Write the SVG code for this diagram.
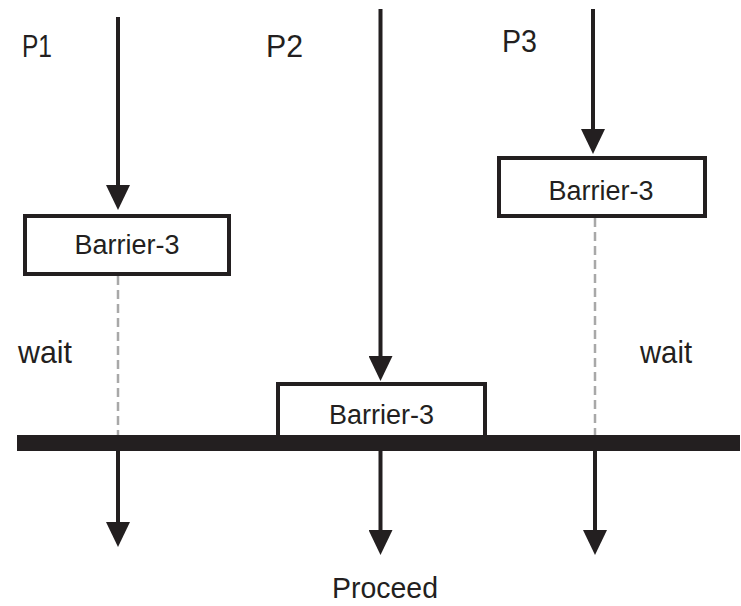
<svg xmlns="http://www.w3.org/2000/svg" width="741" height="606" viewBox="0 0 741 606">
  <style>
    .lbl { font-family: "Liberation Sans", Arial, sans-serif; fill: #231f20; }
    .big { font-size: 32px; }
    .box { fill: #ffffff; stroke: #231f20; stroke-width: 4; }
    .btxt { font-size: 27px; text-anchor: middle; }
    .flow { stroke: #231f20; stroke-width: 4; fill: none; marker-end: url(#ah); }
    .wait { stroke: #a8a8a8; stroke-width: 2.5; stroke-dasharray: 9 5; fill: none; }
  </style>
  <defs>
    <marker id="ah" markerUnits="userSpaceOnUse" markerWidth="25" markerHeight="24" viewBox="0 -12 25 24" refX="2" refY="0" orient="auto">
      <path d="M0,-12 L25,0 L0,12 Z" fill="#231f20"/>
    </marker>
  </defs>
  <rect width="741" height="606" fill="#ffffff"/>

  <g id="connectors">
    <line class="flow" x1="118" y1="17" x2="118" y2="187"/>
    <line class="flow" x1="380.5" y1="9" x2="380.5" y2="358"/>
    <line class="flow" x1="593" y1="9" x2="593" y2="131"/>
    <line class="wait" x1="118" y1="276" x2="118" y2="435"/>
    <line class="wait" x1="595" y1="218" x2="595" y2="435"/>
    <line class="flow" x1="118" y1="443" x2="118" y2="524"/>
    <line class="flow" x1="380.5" y1="443" x2="380.5" y2="532"/>
    <line class="flow" x1="595" y1="443" x2="595" y2="532"/>
  </g>

  <g id="barrier1">
    <rect class="box" x="25" y="216" width="204" height="58"/>
    <text class="lbl btxt" x="127" y="254">Barrier-3</text>
  </g>
  <g id="barrier2">
    <rect class="box" x="278" y="384" width="207" height="53"/>
    <text class="lbl btxt" x="381.5" y="424">Barrier-3</text>
  </g>
  <g id="barrier3">
    <rect class="box" x="499" y="158" width="206" height="58"/>
    <text class="lbl btxt" x="601" y="200">Barrier-3</text>
  </g>

  <g id="bar">
    <rect x="17" y="435" width="723" height="16" fill="#231f20"/>
  </g>

  <g id="labels">
    <text class="lbl big" x="22" y="57" textLength="30" lengthAdjust="spacingAndGlyphs">P1</text>
    <text class="lbl big" x="266" y="57" textLength="37" lengthAdjust="spacingAndGlyphs">P2</text>
    <text class="lbl big" x="502" y="52" textLength="35" lengthAdjust="spacingAndGlyphs">P3</text>
    <text class="lbl big" x="18" y="363" textLength="54" lengthAdjust="spacingAndGlyphs">wait</text>
    <text class="lbl big" x="640" y="363" textLength="52" lengthAdjust="spacingAndGlyphs">wait</text>
    <text class="lbl" style="font-size:30px" x="332" y="598" textLength="106" lengthAdjust="spacingAndGlyphs">Proceed</text>
  </g>
</svg>
